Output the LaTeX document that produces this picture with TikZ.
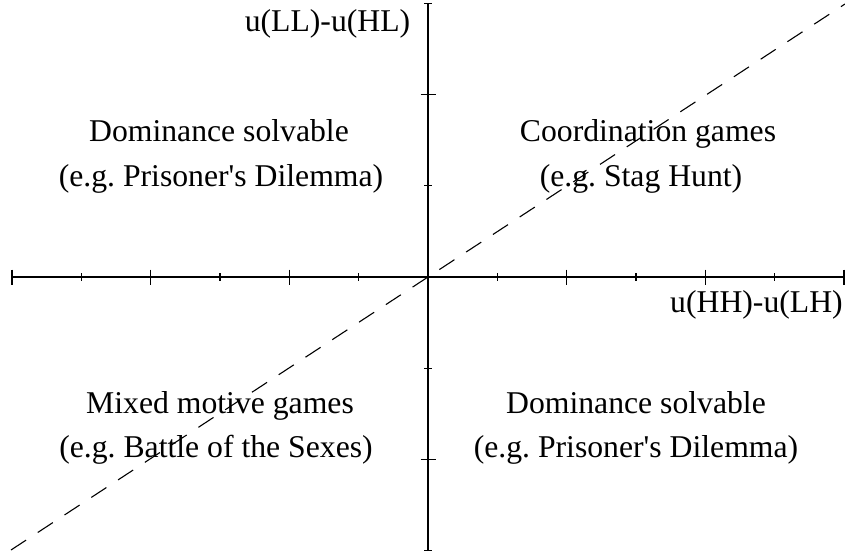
\documentclass[tikz,border=0pt]{standalone}
\usepackage{fontspec}
\newfontfamily\lbfont{Liberation Serif}
\begin{document}
\frenchspacing
\begin{tikzpicture}[x=1pt,y=-1pt,
  axis/.style={line width=1.3pt},
  lbl/.style={anchor=base, inner sep=0pt, font={\lbfont\fontsize{31.7pt}{38pt}\selectfont\frenchspacing}},
  diag/.style={dash pattern=on 18pt off 14pt, line width=1.1pt}]
\useasboundingbox (0,0) rectangle (845,556);
\coordinate (O) at (428,277);
\coordinate (xl) at (12,277);
\coordinate (xr) at (844,277);
\coordinate (yt) at (428,4);
\coordinate (yb) at (428,551);
\draw[axis] (xl) -- (xr);
\draw[axis] (yb) -- (yt);
% ticks on horizontal axis
\foreach \k in {-6,-4,-2,2,4,6}
  \draw[axis] (428+\k*69.33,269.5) -- (428+\k*69.33,284.5);
\foreach \k in {-5,-3,-1,1,3,5}
  \draw[axis] (428+\k*69.33,273) -- (428+\k*69.33,281);
% ticks on vertical axis
\foreach \k in {-2,2}
  \draw[axis] (420.5,277+\k*91.17) -- (435.5,277+\k*91.17);
\foreach \k in {-3,-1,1,3}
  \draw[axis] (424,277+\k*91.17) -- (432,277+\k*91.17);
% diagonal
\coordinate (dl) at (11,550);
\coordinate (dr) at (845,4);
\draw[diag] (dl) -- (dr);
% labels
\node[lbl] (ylab) at (327.5,32) {u(LL)-u(HL)};
\node[lbl] (xlab) at (756.5,312) {u(HH)-u(LH)};
\node[lbl] (tl1) at (219,141.5) {Dominance solvable};
\node[lbl] (tl2) at (221,186) {(e.g. Prisoner's Dilemma)};
\node[lbl] (tr1) at (648,141.5) {Coordination games};
\node[lbl] (tr2) at (641,186) {(e.g. Stag Hunt)};
\node[lbl] (bl1) at (220,413) {Mixed motive games};
\node[lbl] (bl2) at (216,457) {(e.g. Battle of the Sexes)};
\node[lbl] (br1) at (636,413) {Dominance solvable};
\node[lbl] (br2) at (636,457) {(e.g. Prisoner's Dilemma)};
\end{tikzpicture}
\end{document}
